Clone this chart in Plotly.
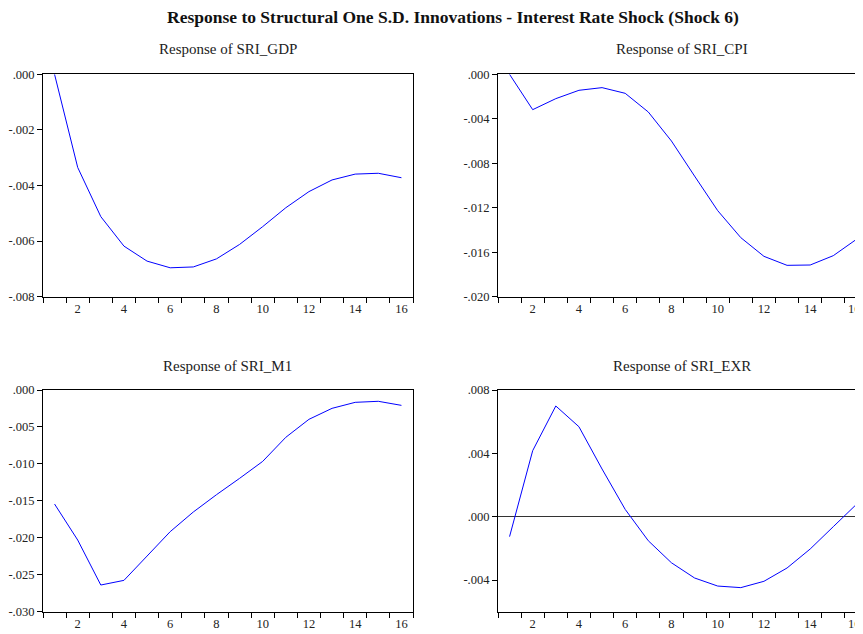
import plotly.graph_objects as go

periods = list(range(1, 17))

gdp = [0.0, -0.00335, -0.00512, -0.00618, -0.00672, -0.00696, -0.00693, -0.00664,
       -0.00612, -0.00548, -0.00480, -0.00422, -0.00380, -0.00359, -0.00356, -0.00372]
cpi = [0.0, -0.00318, -0.00219, -0.00144, -0.00120, -0.00171, -0.00339, -0.00600,
       -0.00915, -0.01226, -0.01469, -0.01637, -0.01718, -0.01715, -0.01631, -0.01484]
m1 = [-0.01543, -0.02030, -0.02639, -0.02576, -0.02247, -0.01917, -0.01651, -0.01417,
      -0.01196, -0.00966, -0.00640, -0.00397, -0.00248, -0.00167, -0.00153, -0.00208]
exr = [-0.00126, 0.00417, 0.00699, 0.00568, 0.00301, 0.00046, -0.00152, -0.00291,
       -0.00387, -0.00438, -0.00448, -0.00408, -0.00324, -0.00204, -0.00063, 0.00078]

x_labels = [2, 4, 6, 8, 10, 12, 14, 16]

gdp_ticks = [0.0, -0.002, -0.004, -0.006, -0.008]
gdp_text = [".000", "-.002", "-.004", "-.006", "-.008"]
cpi_ticks = [0.0, -0.004, -0.008, -0.012, -0.016, -0.020]
cpi_text = [".000", "-.004", "-.008", "-.012", "-.016", "-.020"]
m1_ticks = [0.0, -0.005, -0.010, -0.015, -0.020, -0.025, -0.030]
m1_text = [".000", "-.005", "-.010", "-.015", "-.020", "-.025", "-.030"]
exr_ticks = [0.008, 0.004, 0.0, -0.004]
exr_text = [".008", ".004", ".000", "-.004"]

main_title = "Response to Structural One S.D. Innovations - Interest Rate Shock (Shock 6)"
sub_titles = ["Response of SRI_GDP", "Response of SRI_CPI", "Response of SRI_M1", "Response of SRI_EXR"]

# The page body has an 8px default margin; work in screen pixels and shift.
OFF = 8
W, H = 863 - OFF, 634 - OFF
FONT = "Liberation Serif"
TICK_SIZE = 12.5

# panel pixel boxes in screen coords: (left, right, top, bottom)
boxes = [(43, 413, 74.3, 296.7), (498, 863, 74.3, 296.7),
         (43, 413, 390, 611.7), (498, 863, 390, 611.7)]
series = [gdp, cpi, m1, exr]
yranges = [[-0.008, 0.0], [-0.020, 0.0], [-0.030, 0.0], [-0.006, 0.008]]
yticks = [(gdp_ticks, gdp_text), (cpi_ticks, cpi_text), (m1_ticks, m1_text), (exr_ticks, exr_text)]
sub_pos = [(227.5, 49), (682, 49), (227.5, 366), (682, 366)]
px_per_unit = 370 / 16.0


def px(v):
    return (v - OFF) / W


def py(v):
    return 1 - (v - OFF) / H


fig = go.Figure()
layout = dict(width=W, height=H, margin=dict(l=0, r=0, t=0, b=0),
              paper_bgcolor="white", plot_bgcolor="white", showlegend=False,
              font=dict(family=FONT, color="#222"))
annotations = []
for i, (b, s, yr, (tv, tt)) in enumerate(zip(boxes, series, yranges, yticks)):
    n = "" if i == 0 else str(i + 1)
    l, r, t, bt = b
    xr_hi = 0.5 + (r - l) / px_per_unit
    fig.add_trace(go.Scatter(x=periods, y=s, mode="lines",
                             line=dict(color="#0000FF", width=1),
                             xaxis="x" + n, yaxis="y" + n))
    right_panel = (i % 2 == 1)
    # right panels: the last label sits at the page edge, drawn as an annotation
    xl = x_labels[:-1] if right_panel else x_labels
    layout["xaxis" + n] = dict(
        domain=[px(l), min(1.0, px(r))], range=[0.5, xr_hi], anchor="y" + n,
        tickmode="array", tickvals=xl, ticktext=[str(v) for v in xl],
        ticks="", showgrid=False, zeroline=False,
        showline=True, linecolor="black", linewidth=1, mirror=True,
        tickfont=dict(family=FONT, size=TICK_SIZE, color="#222"),
        minor=dict(ticks="outside", tick0=0.5, dtick=1, ticklen=5, tickcolor="black", showgrid=False),
        automargin=False, fixedrange=True)
    layout["yaxis" + n] = dict(
        domain=[py(bt), py(t)], range=yr, anchor="x" + n,
        tickmode="array", tickvals=tv, ticktext=tt,
        ticks="outside", ticklen=5, tickcolor="black",
        showgrid=False, zeroline=(i == 3), zerolinecolor="#333", zerolinewidth=1,
        showline=True, linecolor="black", linewidth=1,
        mirror=(False if right_panel else True),
        tickfont=dict(family=FONT, size=TICK_SIZE, color="#222"),
        automargin=False, fixedrange=True)
    if right_panel:
        annotations.append(dict(text=str(x_labels[-1]), x=1.0, xref="paper",
                                y=py(bt + 12.5), yref="paper", showarrow=False,
                                xanchor="right", yanchor="middle",
                                font=dict(family=FONT, size=TICK_SIZE, color="#222")))
    sx, sy = sub_pos[i]
    annotations.append(dict(text=sub_titles[i], x=px(sx), y=py(sy),
                            xref="paper", yref="paper", showarrow=False,
                            xanchor="center", yanchor="middle",
                            font=dict(family=FONT, size=15, color="#222")))

annotations.append(dict(text="<b>" + main_title + "</b>", x=px(452.5), y=py(17),
                        xref="paper", yref="paper", showarrow=False,
                        xanchor="center", yanchor="middle",
                        font=dict(family=FONT, size=17.5, color="#111")))
layout["annotations"] = annotations
fig.update_layout(**layout)
fig.write_html("out.html")
